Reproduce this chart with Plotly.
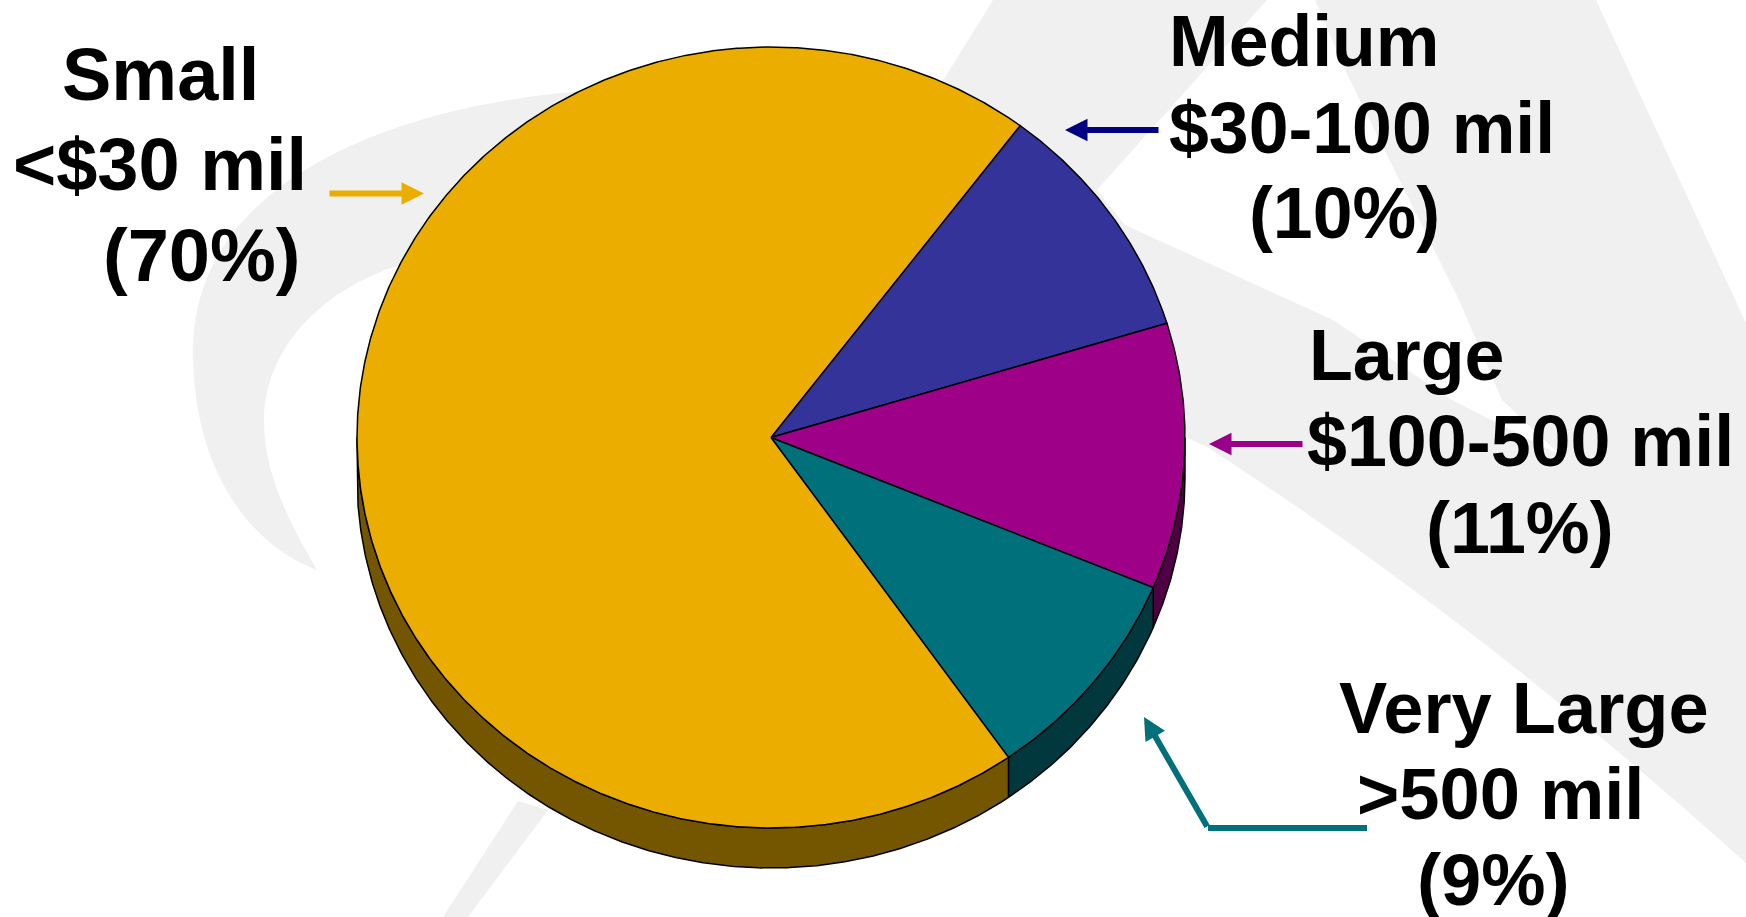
import numpy as np
import plotly.graph_objects as go

# --- data ---
categories = ["Medium", "Large", "Very Large", "Small"]
shares = [10, 11, 9, 70]
face_colors = ["#333399", "#9E0087", "#00707A", "#EBAD00"]
wall_colors = ["#19194C", "#4F0044", "#00383D", "#755600"]
label_lines = ["Small", "<$30 mil", "(70%)",
               "Medium", "$30-100 mil", "(10%)",
               "Large", "$100-500 mil", "(11%)",
               "Very Large", ">500 mil", "(9%)"]
label_left = [63, 14, 104, 1170, 1170, 1250, 1310, 1308, 1427, 1340, 1358, 1418]
label_base = [99, 189, 280, 65, 152, 237, 379, 465, 552, 732, 818, 904]
label_size = [74, 74, 74, 71.6, 71.6, 71.6, 71.8, 71.8, 71.8, 72.3, 72.3, 72.3]

W, H = 1746, 917
CX, CY, RX, RY, DEPTH = 771, 437.5, 414, 390.5, 40
START = 37.0


def arc(a, b, dy=0.0):
    t = np.radians(np.linspace(a, b, max(2, int(abs(b - a) * 3))))
    return CX + RX * np.sin(t), CY - RY * np.cos(t) + dy


fig = go.Figure()

# Watermark behind the chart
GREY = "#F0F0F0"
shapes = [
    dict(type="path", layer="below", line_width=0, fillcolor=GREY,
         path="M 993 0 L 1596 0 L 1746 323 L 1746 863 C 1566 701 1387 563 1207 447 "
              "L 1000 350 L 900 150 Z"),
    dict(type="path", layer="below", line_width=0, fillcolor="#FFFFFF",
         path="M 1097 190 L 1267 0 L 1315 0 L 1346 72 L 1393 167 L 1459 300 L 1502 400 L 1560 455 "
              "L 1452 400 L 1333 320 L 1125 225 Z"),
    dict(type="path", layer="below", line_width=0, fillcolor=GREY,
         path="M 600 90 C 420 100 193 170 193 351 C 193 470 250 545 317 570 "
              "C 285 515 264 470 264 421 C 264 350 320 290 400 265 Z"),
    dict(type="path", layer="below", line_width=0, fillcolor=GREY,
         path="M 443 917 L 518 801 L 548 810 L 468 917 Z"),
    dict(type="line", x0=1208, y0=828, x1=1367, y1=828,
         line=dict(color="#00707A", width=6)),
]

# Side walls, then the top faces, all derived from the shares
edges = START + np.cumsum([0] + shares) * 3.6
for i, name in enumerate(categories):
    a, b = edges[i], edges[i + 1]
    lo, hi = max(a, 90), min(b, 270)
    if lo < hi:
        tx, ty = arc(lo, hi)
        bx, by = arc(hi, lo, DEPTH)
        fig.add_trace(go.Scatter(
            x=np.r_[tx, bx, tx[0]], y=np.r_[ty, by, ty[0]], mode="lines", fill="toself",
            fillcolor=wall_colors[i], line=dict(color="black", width=1.5),
            hoverinfo="skip", showlegend=False))
for i, name in enumerate(categories):
    ax_, ay_ = arc(edges[i], edges[i + 1])
    fig.add_trace(go.Scatter(
        x=np.r_[CX, ax_, CX], y=np.r_[CY, ay_, CY], mode="lines", fill="toself",
        fillcolor=face_colors[i], line=dict(color="black", width=1.5),
        name=name, text=f"{name}: {shares[i]}%", hoverinfo="text", showlegend=False))

annotations = [
    dict(x=left - 3, y=base - 0.335 * size, xref="x", yref="y", text=line, showarrow=False,
         xanchor="left", yanchor="middle",
         font=dict(family="Liberation Sans", size=size, color="black", weight="bold"))
    for line, left, base, size in zip(label_lines, label_left, label_base, label_size)
]
for (x0, y0, x1, y1, color) in [(328, 193.5, 424, 193.5, "#EBAD00"),
                                (1160, 130, 1065, 130, "#000080"),
                                (1304, 444, 1209, 444, "#990088"),
                                (1208, 828, 1144, 717, "#00707A")]:
    annotations.append(dict(x=x1, y=y1, ax=x0, ay=y0, xref="x", yref="y", axref="x", ayref="y",
                            text="", showarrow=True, arrowhead=2, arrowsize=0.75,
                            arrowwidth=6, arrowcolor=color))

fig.update_layout(
    width=W, height=H, margin=dict(l=0, r=0, t=0, b=0), autosize=False,
    paper_bgcolor="white", plot_bgcolor="white", showlegend=False,
    xaxis=dict(range=[0, W], visible=False, fixedrange=True),
    yaxis=dict(range=[H, 0], visible=False, fixedrange=True),
    shapes=shapes, annotations=annotations,
)
fig.write_html("out.html", config={"displayModeBar": False},
               post_script="document.body.style.margin='0';document.body.style.overflow='hidden';")
